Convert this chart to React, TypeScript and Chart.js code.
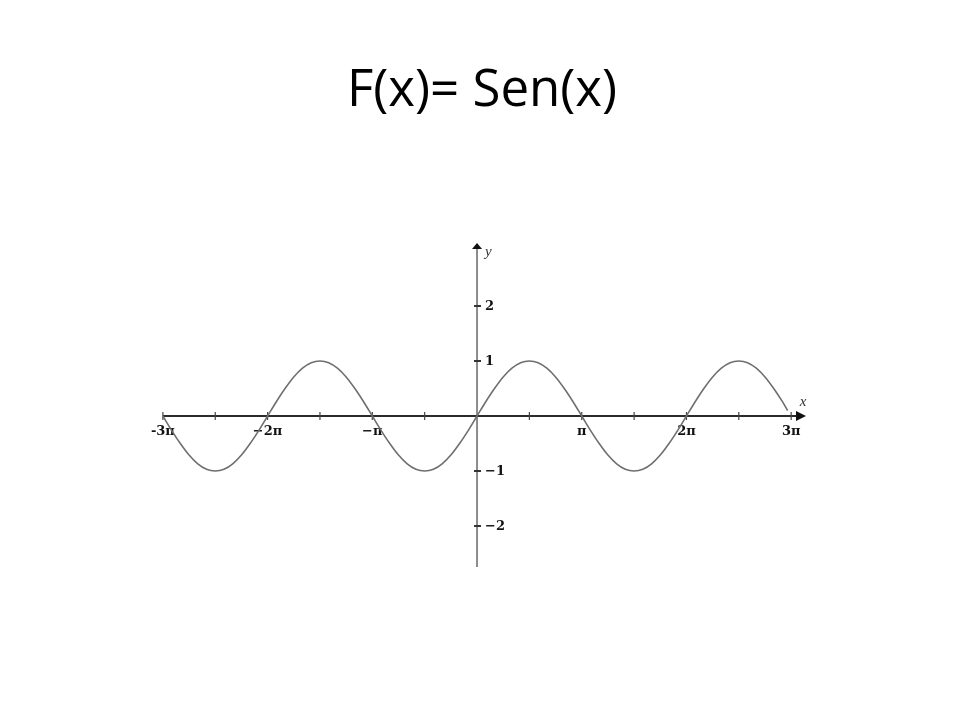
import React, { useEffect, useRef } from "react";
import { Chart, registerables } from "chart.js";

Chart.register(...registerables);

const TITLE = "F(x)= Sen(x)";

// x positions in units of π/12 (so 12 = π)
const xTwelfthsOfPi = [
  -36, -35, -34, -33, -32, -31, -30, -29, -28, -27, -26, -25,
  -24, -23, -22, -21, -20, -19, -18, -17, -16, -15, -14, -13,
  -12, -11, -10, -9, -8, -7, -6, -5, -4, -3, -2, -1,
  0, 1, 2, 3, 4, 5, 6, 7, 8, 9, 10, 11,
  12, 13, 14, 15, 16, 17, 18, 19, 20, 21, 22, 23,
  24, 25, 26, 27, 28, 29, 30, 31, 32, 33, 34, 35,
  35.6,
];
const yValues = [
  0, -0.26, -0.5, -0.71, -0.87, -0.97, -1, -0.97, -0.87, -0.71, -0.5, -0.26,
  0, 0.26, 0.5, 0.71, 0.87, 0.97, 1, 0.97, 0.87, 0.71, 0.5, 0.26,
  0, -0.26, -0.5, -0.71, -0.87, -0.97, -1, -0.97, -0.87, -0.71, -0.5, -0.26,
  0, 0.26, 0.5, 0.71, 0.87, 0.97, 1, 0.97, 0.87, 0.71, 0.5, 0.26,
  0, -0.26, -0.5, -0.71, -0.87, -0.97, -1, -0.97, -0.87, -0.71, -0.5, -0.26,
  0, 0.26, 0.5, 0.71, 0.87, 0.97, 1, 0.97, 0.87, 0.71, 0.5, 0.26,
  0.1,
];

// tick positions in the same π/12 units
const xTickValues = [-36, -30, -24, -18, -12, -6, 6, 12, 18, 24, 30, 36];
const xLabelValues = [-36, -24, -12, 12, 24, 36];
const xLabels = ["-3π", "−2π", "−π", "π", "2π", "3π"];
const yTickValues = [2, 1, -1, -2];
const yLabels = ["2", "1", "−1", "−2"];
const xAxisName = "x";
const yAxisName = "y";

const axesPlugin = {
  id: "crossAxes",
  beforeDatasetsDraw(chart: any) {
    const { ctx, chartArea } = chart;
    const xs = chart.scales.x;
    const ys = chart.scales.y;
    const x0 = xs.getPixelForValue(0);
    const y0 = ys.getPixelForValue(0);
    const top = chartArea.top;
    const right = chartArea.right;
    ctx.save();

    // y axis
    ctx.strokeStyle = "#8c8c8c";
    ctx.lineWidth = 2;
    ctx.beginPath();
    ctx.moveTo(x0, chartArea.bottom);
    ctx.lineTo(x0, top + 4);
    ctx.stroke();
    ctx.fillStyle = "#111";
    ctx.beginPath();
    ctx.moveTo(x0, top);
    ctx.lineTo(x0 - 5, top + 6);
    ctx.lineTo(x0 + 5, top + 6);
    ctx.closePath();
    ctx.fill();

    // x axis
    ctx.strokeStyle = "#2a2a2a";
    ctx.lineWidth = 2;
    ctx.beginPath();
    ctx.moveTo(xs.getPixelForValue(xTickValues[0]), y0);
    ctx.lineTo(right - 6, y0);
    ctx.stroke();
    ctx.fillStyle = "#111";
    ctx.beginPath();
    ctx.moveTo(right, y0);
    ctx.lineTo(right - 10, y0 - 5);
    ctx.lineTo(right - 10, y0 + 5);
    ctx.closePath();
    ctx.fill();

    // x ticks
    ctx.strokeStyle = "#444";
    ctx.lineWidth = 1.2;
    xTickValues.forEach((v) => {
      const px = xs.getPixelForValue(v);
      ctx.beginPath();
      ctx.moveTo(px, y0 - 4);
      ctx.lineTo(px, y0 + 4);
      ctx.stroke();
    });

    // y ticks
    ctx.strokeStyle = "#333";
    ctx.lineWidth = 2;
    yTickValues.forEach((v) => {
      const py = ys.getPixelForValue(v);
      ctx.beginPath();
      ctx.moveTo(x0 - 3, py);
      ctx.lineTo(x0 + 4, py);
      ctx.stroke();
    });

    // labels
    ctx.fillStyle = "#111";
    ctx.font = "bold 13px 'DejaVu Serif'";
    ctx.textAlign = "center";
    ctx.textBaseline = "middle";
    xLabelValues.forEach((v, i) => {
      ctx.fillText(xLabels[i], xs.getPixelForValue(v), y0 + 16);
    });
    ctx.textAlign = "left";
    yTickValues.forEach((v, i) => {
      ctx.fillText(yLabels[i], x0 + 8, ys.getPixelForValue(v) + 1);
    });

    ctx.font = "italic 15px 'Liberation Serif'";
    ctx.fillStyle = "#333";
    ctx.textAlign = "left";
    ctx.fillText(yAxisName, x0 + 8, top + 9);
    ctx.textAlign = "center";
    ctx.fillText(xAxisName, right - 3, y0 - 14);

    ctx.restore();
  },
};

export default function App() {
  const ref = useRef<HTMLCanvasElement | null>(null);

  useEffect(() => {
    document.body.style.margin = "0";
    const canvas = ref.current;
    if (!canvas) return;
    const chart = new Chart(canvas, {
      type: "line",
      data: {
        datasets: [
          {
            label: TITLE,
            data: xTwelfthsOfPi.map((v, i) => ({ x: v, y: yValues[i] })),
            borderColor: "#6f6f6f",
            borderWidth: 1.6,
            pointRadius: 0,
            cubicInterpolationMode: "monotone",
            fill: false,
          },
        ],
      },
      options: {
        animation: false,
        responsive: false,
        events: [],
        layout: {
          padding: { top: 61, left: 158, right: 154, bottom: 153 },
        },
        plugins: {
          legend: { display: false },
          tooltip: { enabled: false },
          title: {
            display: true,
            text: TITLE,
            color: "#000",
            font: { family: "'Open Sans'", size: 51, weight: "normal", lineHeight: 1.2 },
            padding: { top: 0, bottom: 120.8 },
          },
        },
        scales: {
          x: { type: "linear", min: -36.56, max: 37.7, display: false },
          y: { type: "linear", min: -2.745, max: 3.145, display: false },
        },
      },
      plugins: [axesPlugin],
    });
    return () => chart.destroy();
  }, []);

  return (
    <div style={{ width: 960, height: 720, background: "#fff" }}>
      <canvas ref={ref} width={960} height={720} style={{ display: "block" }} />
    </div>
  );
}
